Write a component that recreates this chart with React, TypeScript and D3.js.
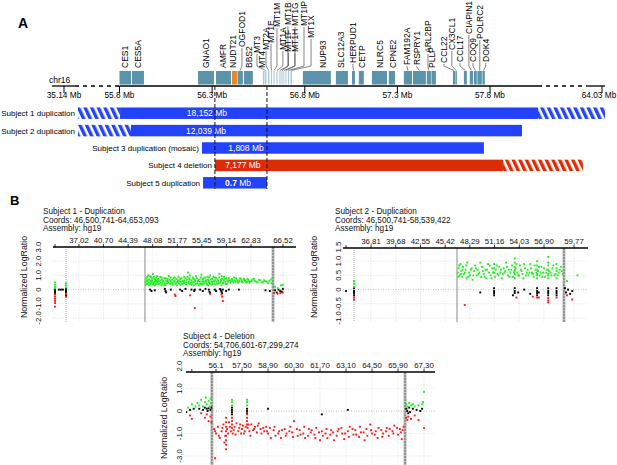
import React from 'react';
import * as d3 from 'd3';

const FONT = "'Liberation Sans', Arial, Helvetica, sans-serif";
const BLUE = '#2342fb';
const RED = '#dc2c05';
const GENE = '#5b93ab';
const ORANGE = '#e2892c';
const MTCOL = '#a9c9dc';

// ---------------- Panel A data ----------------
const chromTicks = [35.14, 55.8, 56.3, 56.8, 57.3, 57.8, 64.03];
const chromTickLabels = ['35.14 Mb', '55.8 Mb', '56.3 Mb', '56.8 Mb', '57.3 Mb', '57.8 Mb', '64.03 Mb'];

const geneNames = ['CES1', 'CES5A', 'GNAO1', 'AMFR', 'NUDT21', 'OGFOD1', 'BBS2', 'MT4', 'MT3', 'MT2A', 'MT1E', 'MT1M', 'MT1A', 'MT1B', 'MT1F', 'MT1G', 'MT1H', 'MT1IP', 'MT1X', 'NUP93', 'SLC12A3', 'HERPUD1', 'CETP', 'NLRC5', 'CPNE2', 'FAM192A', 'RSPRY1', 'ARL2BP', 'PLLP', 'CCL22', 'CX3CL1', 'CCL17', 'CIAPIN1', 'COQ9', 'POLRC2', 'DOK4'];
const geneStart = [55.797, 55.867, 56.224, 56.321, 56.407, 56.437, 56.472, 56.574, 56.585, 56.601, 56.618, 56.631, 56.647, 56.663, 56.674, 56.685, 56.696, 56.709, 56.723, 56.790, 56.968, 57.055, 57.092, 57.163, 57.254, 57.335, 57.384, 57.459, 57.484, 57.600, 57.613, 57.659, 57.691, 57.713, 57.732, 57.759];
const geneEnd = [55.862, 55.932, 56.310, 56.402, 56.434, 56.466, 56.520, 56.582, 56.593, 56.609, 56.623, 56.637, 56.653, 56.669, 56.680, 56.690, 56.701, 56.715, 56.731, 56.941, 57.033, 57.071, 57.119, 57.244, 57.287, 57.379, 57.454, 57.481, 57.508, 57.611, 57.621, 57.675, 57.708, 57.729, 57.756, 57.772];
const geneKind = ['g', 'g', 'g', 'g', 'o', 'g', 'g', 'm', 'm', 'm', 'm', 'm', 'm', 'm', 'm', 'm', 'm', 'm', 'm', 'g', 'g', 'g', 'g', 'g', 'g', 'g', 'g', 'g', 'g', 'g', 'g', 'g', 'g', 'g', 'g', 'g'];
// label anchor (Mb) and label tier bottom (layout)
const geneLabelAt = [55.830, 55.900, 56.267, 56.359, 56.413, 56.461, 56.499, 56.569, 56.542, 56.591, 56.618, 56.650, 56.682, 56.709, 56.712, 56.747, 56.747, 56.796, 56.834, 56.898, 56.995, 57.060, 57.109, 57.206, 57.276, 57.352, 57.405, 57.465, 57.486, 57.551, 57.594, 57.638, 57.686, 57.708, 57.745, 57.777];
const geneLabelBottom = [68, 68, 68, 68, 68, 47, 68, 68, 53, 50, 43, 27, 50, 25, 52, 26, 52, 26, 38, 68, 68, 63, 68, 68, 68, 65, 65, 53, 68, 63, 50, 62, 34, 62, 39, 62];

const subjects = ['Subject 1 duplication', 'Subject 2 duplication', 'Subject 3 duplication (mosaic)', 'Subject 4 deletion', 'Subject 5 duplication'];
const barHatchStart = [40.35, 40.35, null, null, null];
const barSolidStart = [55.803, 55.862, 56.245, 56.315, 56.251];
const barSolidEnd = [60.47, 59.58, 57.767, 58.52, 56.596];
const barHatchEnd = [64.2, null, null, 62.97, null];
const barSize = ['18,152', '12,039', '1,808', '7,177', '0.7'];
const barType = ['dup', 'dup', 'dup', 'del', 'dup'];
const barLabelAt = [56.272, 56.267, 56.483, 56.466, 56.44];
const breakLines = [56.315, 56.596];

// ---------------- Panel B data ----------------
const p1Ticks = [37.02, 40.70, 44.39, 48.08, 51.77, 55.45, 59.14, 62.83, 66.52];
const p1TickLabels = ['37.02', '40.70', '44.39', '48.08', '51.77', '55.45', '59.14', '62.83', '66.52'];
const p1YTicks = [3, 2, 1, 0, -1, -2];
const p1YLabels = ['3.0', '2.0', '1.0', '0', '-1.0', '-2.0'];
const p1Green: [number, number][] = [[33.42, 0.1], [33.42, 0.2], [33.42, 0.35], [33.42, 0.5], [35.07, 0.15], [35.07, 0.3], [35.07, 0.45],
[47.0, 0.55], [47.1, 0.8], [47.2, 0.45], [47.3, 0.62], [47.4, 1.0], [47.5, 0.5], [47.6, 0.7], [47.7, 0.4], [47.8, 0.9], [47.9, 0.55], [48.0, 0.65], [48.1, 1.1], [48.2, 0.45], [48.3, 0.75], [48.4, 0.3], [48.5, 0.6], [48.6, 0.85], [48.7, 0.5], [48.8, 0.7], [48.9, 0.4], [49.0, 0.6], [49.2, 0.9], [49.3, 0.5], [49.4, 0.3], [49.5, 0.7], [49.6, 0.55], [49.8, 0.8], [49.9, 0.45], [50.0, 0.35], [50.1, 0.6], [50.3, 0.75], [50.4, 0.5], [50.5, 0.95], [50.7, 0.4], [50.8, 0.6], [51.0, 0.7], [51.1, 0.45], [51.3, 0.55], [51.4, 0.85], [51.6, 0.5], [51.7, 0.3], [51.9, 0.65], [52.0, 0.45], [52.2, 0.75], [52.3, 0.55], [52.5, 0.4], [52.6, 0.6], [52.8, 0.9], [52.9, 0.5], [53.1, 0.35], [53.2, 0.7], [53.4, 1.2], [53.5, 0.55], [53.6, 0.8], [53.7, 0.4], [53.9, 0.65], [54.0, 0.5], [54.2, 0.75], [54.3, 0.3], [54.5, 0.6], [54.6, 0.95], [54.8, 0.45], [54.9, 0.6], [55.1, 0.7], [55.2, 0.4], [55.4, 1.05], [55.5, 0.55], [55.6, 0.35], [55.7, 0.8], [55.9, 0.5], [56.0, 0.6], [56.2, 0.45], [56.3, 0.9], [56.4, 0.3], [56.5, 0.65], [56.6, 0.5], [56.7, 1.0], [56.9, 0.55], [57.0, 0.75], [57.1, 0.4], [57.3, 0.6], [57.4, 0.85], [57.5, 0.35], [57.7, 0.55], [57.8, 0.7], [58.0, 0.45], [58.1, 1.1], [58.3, 0.6], [58.4, 0.3], [58.5, 0.75], [58.7, 0.5], [58.8, 0.9], [59.0, 0.55], [59.2, 0.4], [59.3, 0.65], [59.5, 0.8], [59.7, 0.5], [59.9, 0.7], [60.1, 0.6], [60.3, 0.85], [60.5, 0.55], [60.7, 0.7], [60.9, 0.5], [61.1, 0.65], [61.3, 0.75], [61.5, 0.55], [61.7, 0.7], [61.9, 0.6], [62.1, 0.5], [62.3, 0.75], [62.5, 0.6], [62.7, 0.55], [63.0, 0.7], [63.3, 0.6], [63.6, 0.5], [63.9, 0.65], [64.2, 0.55], [64.5, 0.6], [64.8, 0.45], [65.1, 0.7], [65.3, 0.8], [65.6, 0.2], [65.9, 0.1], [66.3, 0.3], [66.5, 0.35],
[47.05, 0.35], [47.15, 0.65], [47.25, 0.9], [47.35, 0.4], [47.45, 0.7], [47.55, 0.3], [47.65, 0.95], [47.75, 0.6], [47.85, 0.45], [47.95, 0.8], [48.05, 0.5], [48.15, 0.35], [48.25, 0.9], [48.35, 0.55], [48.45, 0.7], [48.55, 0.4], [48.65, 0.6], [48.75, 0.95], [48.85, 0.55], [48.95, 0.75], [49.1, 0.4], [49.25, 0.65], [49.45, 0.85], [49.55, 0.4], [49.7, 0.6], [49.85, 0.3], [50.05, 0.8], [50.2, 0.45], [50.35, 0.6], [50.6, 0.7], [50.75, 0.85], [50.9, 0.5], [51.05, 0.35], [51.2, 0.8], [51.35, 0.65], [51.5, 0.4], [51.65, 0.75], [51.8, 0.55], [51.95, 0.9], [52.1, 0.6], [52.25, 0.35], [52.4, 0.8], [52.55, 0.6], [52.7, 0.45], [52.85, 0.65], [53.0, 0.8], [53.15, 0.5], [53.3, 0.9], [53.45, 0.45], [53.55, 0.7], [53.65, 1.0], [53.8, 0.5], [53.95, 0.35], [54.1, 0.85], [54.25, 0.55], [54.4, 0.7], [54.55, 0.4], [54.7, 0.8], [54.85, 0.65], [55.0, 0.3], [55.15, 0.55], [55.3, 0.85], [55.45, 0.4], [55.55, 0.75], [55.65, 0.6], [55.8, 0.45], [55.95, 0.85], [56.1, 0.65], [56.25, 0.35], [56.35, 0.7], [56.45, 0.55], [56.55, 0.85], [56.65, 0.4], [56.8, 0.7], [56.95, 0.35], [57.05, 0.55], [57.2, 0.9], [57.35, 0.45], [57.45, 0.65], [57.6, 0.8], [57.75, 0.4], [57.9, 0.6], [58.05, 0.85], [58.2, 0.5], [58.35, 0.7], [58.45, 0.95], [58.6, 0.45], [58.75, 0.65], [58.9, 0.75], [59.05, 0.4], [59.15, 0.8], [59.4, 0.55], [59.6, 0.65], [59.8, 0.6], [60.0, 0.75], [60.2, 0.5], [60.4, 0.65], [60.6, 0.8], [60.8, 0.6], [61.0, 0.55], [61.2, 0.8], [61.4, 0.6], [61.6, 0.5], [61.8, 0.75], [62.0, 0.65], [62.2, 0.55], [62.4, 0.7], [62.6, 0.5], [62.9, 0.6], [63.15, 0.75], [63.45, 0.55], [63.75, 0.7], [64.05, 0.5], [64.35, 0.65], [64.65, 0.55], [64.95, 0.6], [65.2, 0.45]];
const p1Black: [number, number][] = [[33.42, 0.05], [33.42, -0.05], [33.42, -0.15], [33.42, -0.25], [34.0, 0], [34.3, 0], [34.6, 0], [35.07, 0.05], [35.07, -0.05], [35.07, -0.15], [35.07, -0.25], [35.07, -0.35], [35.07, -0.45],
[47.7, 0], [47.9, -0.1], [48.4, -0.05], [49.9, 0.05], [50.0, -0.1], [50.1, -0.2], [50.8, 0], [52.2, 0], [52.5, -0.1], [53.0, 0.05], [53.9, 0], [54.3, -0.1], [54.4, 0], [55.2, 0], [55.6, -0.1], [56.0, 0.05], [56.5, 0], [56.6, -0.15], [56.7, -0.25], [57.4, 0], [57.6, -0.1], [58.2, 0.05], [58.3, -0.05], [58.4, -0.15], [58.5, -0.25], [58.6, 0], [59.1, -0.1], [59.5, 0], [61.0, 0], [64.5, -0.05], [65.0, -0.1], [65.6, -0.05], [65.8, -0.2], [66.0, 0], [66.2, -0.1], [66.4, -0.15], [66.5, 0.05]];
const p1Red: [number, number][] = [[33.42, -0.35], [33.42, -0.5], [33.42, -0.65], [33.42, -0.8], [33.42, -0.95], [33.42, -1.2], [35.07, -0.3], [35.07, -0.5], [51.4, -0.35], [51.5, -0.45], [53.7, -0.4], [54.4, -1.3], [56.7, -0.3], [58.5, -0.5], [58.6, -0.8], [58.4, -0.35], [65.5, -0.25], [65.9, -0.3], [66.2, -0.25], [66.5, -0.2]];

const p2Ticks = [36.81, 39.68, 42.55, 45.42, 48.29, 51.16, 54.03, 56.90, 59.77];
const p2TickLabels = ['36,81', '39,68', '42,55', '45,42', '48,29', '51,16', '54,03', '56,90', '59,77'];
const p2YTicks = [1.5, 1.0, 0.5, 0, -0.5, -1.0];
const p2YLabels = ['1.5', '1.0', '0.5', '0', '-0.5', '-1.0'];
const p2Green: [number, number][] = [[34.84, 0.1], [34.84, 0.2], [34.84, 0.3],
[46.9, 0.6], [47.0, 0.75], [47.1, 0.5], [47.2, 0.9], [47.3, 0.65], [47.4, 0.45], [47.5, 0.8], [47.6, 0.55], [47.8, 0.7], [47.9, 0.4], [48.0, 0.95], [48.2, 0.6], [48.3, 0.5], [48.5, 0.75], [48.6, 0.35], [48.8, 0.65], [48.9, 0.85], [49.1, 0.5], [49.2, 0.7], [49.4, 0.6], [49.6, 0.45], [49.7, 0.8], [49.9, 0.55], [50.1, 0.7], [50.2, 0.4], [50.4, 0.9], [50.5, 0.6], [50.7, 0.5], [50.9, 0.75], [51.0, 0.6], [51.1, 0.9], [51.2, 0.45], [51.3, 0.7], [51.5, 0.55], [51.7, 0.8], [51.8, 0.6], [52.0, 0.4], [52.2, 0.75], [52.3, 0.6], [52.5, 0.95], [52.7, 0.5], [52.8, 0.7], [53.0, 0.6], [53.2, 0.85], [53.3, 0.45], [53.5, 0.7], [53.5, 0.55], [53.5, 0.95], [53.5, 1.1], [53.5, 0.4], [53.6, 0.75], [53.8, 0.6], [54.0, 0.5], [54.1, 0.85], [54.3, 0.65], [54.5, 0.4], [54.7, 0.75], [54.9, 0.6], [55.1, 0.5], [55.3, 0.9], [55.5, 0.6], [55.7, 0.45], [55.9, 0.7], [56.1, 0.55], [56.1, 0.85], [56.1, 1.0], [56.1, 0.4], [56.2, 0.65], [56.4, 0.5], [56.6, 0.8], [56.8, 0.6], [57.0, 0.45], [57.2, 0.7], [57.3, 0.55], [57.3, 0.85], [57.3, 1.15], [57.3, 0.4], [57.5, 0.6], [57.7, 0.75], [57.9, 0.5], [58.1, 0.65], [58.1, 0.9], [58.1, 0.4], [58.3, 0.6], [58.5, 0.8], [58.7, 0.55], [59.1, 0.3], [60.1, 0.5],
[46.95, 0.45], [47.05, 0.85], [47.25, 0.55], [47.45, 0.7], [47.7, 0.6], [47.85, 0.85], [48.1, 0.45], [48.4, 0.7], [48.7, 0.5], [49.0, 0.75], [49.3, 0.55], [49.5, 0.95], [49.8, 0.65], [50.0, 0.45], [50.3, 0.7], [50.6, 0.85], [50.8, 0.4], [51.1, 0.6], [51.1, 0.75], [51.4, 0.85], [51.6, 0.5], [51.9, 0.7], [52.1, 0.55], [52.4, 0.65], [52.6, 0.8], [52.9, 0.45], [53.1, 0.7], [53.4, 0.6], [53.5, 0.8], [53.5, 0.65], [53.7, 0.9], [53.9, 0.5], [54.2, 0.7], [54.4, 0.55], [54.6, 0.9], [54.8, 0.5], [55.0, 0.7], [55.2, 0.6], [55.4, 0.75], [55.6, 0.55], [55.8, 0.85], [56.0, 0.6], [56.1, 0.7], [56.1, 0.5], [56.3, 0.8], [56.5, 0.6], [56.7, 0.45], [56.9, 0.75], [57.1, 0.6], [57.3, 0.7], [57.3, 0.95], [57.3, 0.5], [57.4, 0.65], [57.6, 0.5], [57.8, 0.85], [58.0, 0.55], [58.1, 0.75], [58.2, 0.5], [58.4, 0.7], [58.6, 0.65]];
const p2Black: [number, number][] = [[33.91, -0.05], [34.84, 0.05], [34.84, -0.05], [34.84, -0.12], [34.84, -0.2], [49.5, -0.1], [51.1, 0.05], [51.1, -0.05], [51.1, -0.12], [51.1, -0.2], [53.5, 0.05], [53.5, -0.05], [53.5, -0.12], [53.3, -0.2], [53.9, -0.1], [54.6, 0], [55.3, -0.15], [56.1, 0.05], [56.1, -0.05], [56.1, -0.12], [56.1, -0.2], [56.3, -0.1], [57.3, 0.05], [57.3, -0.05], [57.3, -0.12], [57.3, -0.2], [58.1, 0.05], [58.1, -0.05], [58.1, -0.12], [58.1, -0.2], [58.9, 0.05], [59.0, -0.1], [59.2, 0], [59.4, -0.15], [59.6, -0.05]];
const p2Red: [number, number][] = [[34.84, -0.28], [34.84, -0.36], [47.7, -0.54], [53.7, -0.28], [55.6, -0.25], [56.1, -0.28], [56.3, -0.28], [57.3, -0.3], [57.3, -0.38], [57.3, -0.45], [58.1, -0.28], [59.1, -0.2], [59.6, -0.35]];

const p4Ticks = [56.1, 57.5, 58.9, 60.3, 61.7, 63.1, 64.5, 65.9, 67.3];
const p4TickLabels = ['56.1', '57,50', '58,90', '60,30', '61,70', '63,10', '64,50', '65,90', '67,30'];
const p4YTicks = [2, 1, 0, -1, -2];
const p4YLabels = ['2.0', '1.0', '0', '-1.0', '-3.0'];
const p4Green: [number, number][] = [[54.6, 0.15], [54.8, 0.3], [55.0, 0.2], [55.1, 0.35], [55.2, 0.25], [55.3, 0.5], [55.4, 0.2], [55.5, 0.4], [55.55, 0.6], [55.6, 0.3], [55.7, 0.45], [55.75, 0.2], [55.8, 0.55], [55.85, 0.35], [56.96, 0.25], [56.96, 0.4], [56.96, 0.5], [57.77, 0.25], [57.77, 0.4], [57.77, 0.5], [66.3, 0.5], [66.35, 0.3], [66.4, 0.2], [66.5, 0.35], [66.6, 0.25], [66.7, 0.3], [66.8, 0.2], [67.0, 0.25], [67.2, 0.3], [67.25, 0.4], [67.3, 0.85]];
const p4Black: [number, number][] = [[54.5, -0.05], [54.7, 0.05], [54.9, 0.1], [55.2, 0.1], [55.4, 0.05], [55.5, 0.15], [55.6, 0.1], [55.65, 0.0], [55.7, 0.12], [55.8, 0.05], [55.85, 0.15], [56.96, 0.15], [56.96, 0.05], [56.96, -0.05], [56.96, -0.15], [57.77, 0.1], [57.77, 0], [57.77, -0.1], [58.9, 0.1], [63.2, 0.05], [61.8, -0.15], [66.35, 0.1], [66.4, 0], [66.45, -0.1], [66.5, 0.15], [66.55, -0.05], [66.7, 0.1], [66.9, 0.05], [67.1, 0], [67.2, 0.1]];
const p4Red: [number, number][] = [[54.7, -0.2], [54.8, -0.35], [55.3, -0.1], [55.5, -0.3], [55.6, -0.15], [55.7, -0.45], [55.8, -0.25], [55.85, -0.5], [56.05, -2.1],
[56.0, -0.8], [56.1, -1.0], [56.2, -0.7], [56.3, -1.2], [56.4, -0.9], [56.5, -0.6], [56.6, -1.1], [56.64, -0.3], [56.64, -0.5], [56.64, -0.7], [56.64, -0.9], [56.64, -1.1], [56.64, -1.3], [56.64, -1.5], [56.64, -1.7], [56.7, -0.8], [56.8, -0.5], [56.9, -0.9], [56.96, -0.3], [56.96, -0.45], [56.96, -0.6], [56.96, -0.75], [57.0, -1.0], [57.1, -0.7], [57.2, -0.55], [57.3, -0.9], [57.4, -0.6], [57.5, -0.8], [57.6, -1.0], [57.7, -0.7], [57.77, -0.15], [57.77, -0.3], [57.77, -0.45], [57.77, -0.6], [57.8, -0.75], [57.9, -0.9], [58.0, -0.6], [58.1, -0.85], [58.2, -0.7], [58.3, -0.95], [58.4, -0.55], [58.5, -0.8], [58.7, -0.9], [58.8, -0.7], [58.9, -1.0], [59.0, -0.75], [59.2, -0.85], [59.3, -1.1], [59.5, -0.9], [59.6, -1.2], [59.8, -0.8], [59.9, -1.0], [60.1, -0.7], [60.2, -0.95], [60.3, -0.45], [60.5, -1.1], [60.6, -0.85], [60.8, -1.0], [60.9, -1.2], [61.1, -0.8], [61.2, -0.95], [61.4, -1.05], [61.5, -0.75], [61.7, -1.3], [61.8, -0.9], [62.0, -1.0], [62.1, -1.2], [62.3, -0.85], [62.4, -0.95], [62.6, -1.1], [62.7, -0.8], [62.9, -1.0], [63.0, -1.25], [63.2, -0.9], [63.3, -0.7], [63.5, -1.05], [63.6, -0.85], [63.8, -1.15], [63.9, -0.95], [64.1, -1.3], [64.2, -0.8], [64.4, -0.6], [64.5, -1.0], [64.7, -0.9], [64.8, -1.2], [65.0, -0.85], [65.1, -1.0], [65.3, -0.75], [65.4, -1.1], [65.6, -0.9], [65.7, -0.65], [65.9, -1.05], [66.0, -0.8], [66.1, -1.25], [66.2, -0.7],
[66.35, -0.3], [66.4, -0.4], [66.45, -0.25], [66.6, -0.35], [66.8, -0.2], [67.0, -0.4], [67.3, -0.75],
[56.05, -0.9], [56.25, -1.1], [56.45, -0.75], [56.55, -1.4], [56.75, -1.0], [56.85, -0.7], [57.05, -0.85], [57.15, -1.05], [57.35, -0.75], [57.45, -1.0], [57.55, -0.65], [57.65, -0.9], [57.85, -0.6], [57.95, -1.1], [58.15, -0.8], [58.35, -0.65], [58.55, -1.0], [58.65, -0.75], [58.85, -0.9], [59.05, -1.2], [59.25, -0.7], [59.45, -1.0], [59.65, -0.85], [59.85, -1.1], [60.05, -0.9], [60.25, -1.15], [60.45, -0.8], [60.65, -1.05], [60.85, -0.7], [61.05, -1.1], [61.25, -0.85], [61.45, -1.2], [61.65, -0.95], [61.85, -1.1], [62.05, -0.8], [62.25, -1.05], [62.45, -1.3], [62.65, -0.9], [62.85, -0.75], [63.05, -1.0], [63.25, -1.15], [63.45, -0.8], [63.65, -1.05], [63.85, -0.7], [64.05, -0.95], [64.25, -1.1], [64.45, -0.85], [64.65, -1.05], [64.85, -0.75], [65.05, -1.15], [65.25, -0.9], [65.45, -0.8], [65.65, -1.0], [65.85, -0.75], [66.05, -0.95], [66.15, -0.85]];

type Pt = [number, number];

function Scatter(p: any) {
  const x = d3.scaleLinear().domain(p.xDomain).range(p.xRange);
  const y = d3.scaleLinear().domain(p.yDomain).range(p.yRange);
  const clipId = p.id + '-clip';
  const s = 1.9;
  const pt = (d: Pt, c: string, i: number) => (
    <rect key={c + i} x={x(d[0]) - s / 2} y={y(d[1]) - s / 2} width={s} height={s} fill={c} />
  );
  return (
    <g fontFamily={FONT}>
      {p.title.map((t: string, i: number) => (
        <text key={i} x={p.titleX} y={p.titleY + i * 8.5} fontSize={8.2} fill="#111">{t}</text>
      ))}
      <defs>
        <clipPath id={clipId}>
          <rect x={p.left} y={p.top} width={p.right - p.left} height={p.bottom - p.top} />
        </clipPath>
      </defs>
      <g clipPath={`url(#${clipId})`}>
        {p.xTicks.map((t: number, i: number) => (
          <line key={'gx' + i} x1={x(t)} x2={x(t)} y1={p.top} y2={p.bottom} stroke="#d4d4d4" strokeWidth={0.6} strokeDasharray="1,1.5" />
        ))}
        {p.yTicks.map((t: number, i: number) => (
          <line key={'gy' + i} x1={p.left} x2={p.right} y1={y(t)} y2={y(t)} stroke={t === 0 ? '#999' : '#d4d4d4'} strokeWidth={0.6} strokeDasharray="1,1.5" />
        ))}
        {p.dotted.map((t: number, i: number) => (
          <line key={'dt' + i} x1={x(t)} x2={x(t)} y1={p.top} y2={p.bottom} stroke="#888" strokeWidth={0.7} strokeDasharray="1,1" />
        ))}
        {p.solid.map((t: number, i: number) => (
          <line key={'sl' + i} x1={x(t)} x2={x(t)} y1={p.top} y2={p.bottom} stroke="#8a8a8a" strokeWidth={1} />
        ))}
        {p.double.map((t: number, i: number) => (
          <g key={'db' + i}>
            <line x1={x(t)} x2={x(t)} y1={p.top} y2={p.bottom} stroke="#bcbcbc" strokeWidth={3} />
            <line x1={x(t)} x2={x(t)} y1={p.top} y2={p.bottom} stroke="#555" strokeWidth={0.8} strokeDasharray="2,1" />
          </g>
        ))}
        {p.black.map((d: Pt, i: number) => pt(d, '#000', i))}
        {p.red.map((d: Pt, i: number) => pt(d, '#ff1a1a', i))}
        {p.green.map((d: Pt, i: number) => pt(d, '#22ee22', i))}
      </g>
      <line x1={p.left} x2={p.right} y1={p.top} y2={p.top} stroke="#000" strokeWidth={1.4} />
      {[p.firstTick, ...p.xTicks].map((t: number, i: number) => (
        <line key={'tk' + i} x1={x(t)} x2={x(t)} y1={p.top} y2={p.top - 3} stroke="#000" strokeWidth={0.8} />
      ))}
      {p.xTicks.map((t: number, i: number) => (
        <text key={'tl' + i} x={x(t)} y={p.top - 4} fontSize={7.8} textAnchor="middle" fill="#111">{p.xTickLabels[i]}</text>
      ))}
      {p.yTicks.map((t: number, i: number) => (
        <text key={'yl' + i} transform={`translate(${p.yTickX},${y(t)}) rotate(-90)`} fontSize={7.8} textAnchor="middle" fill="#111">{p.yTickLabels[i]}</text>
      ))}
      <text transform={`translate(${p.yLabelX},${p.yLabelY}) rotate(-90)`} fontSize={8.8} textAnchor="middle" fill="#111">Normalized LogRatio</text>
    </g>
  );
}

export default function App() {
  const gx = d3.scaleLinear().domain([35.14, 55.8, 57.8, 64.03]).range([64, 119.5, 490, 602]);
  const axisY = 86;
  const rows = d3.scaleBand().domain(subjects).range([104.5, 191.5]).paddingInner(0.34).paddingOuter(0.17);
  const bw = rows.bandwidth();

  return (
    <svg width={617} height={465} style={{ position: 'absolute', left: 0, top: 0, background: '#fff' }} fontFamily={FONT}>
      <defs>
        <pattern id="hatchBlue" patternUnits="userSpaceOnUse" width={6} height={6} patternTransform="rotate(-25)">
          <rect width={6} height={6} fill="#fff" />
          <rect width={3.4} height={6} fill={BLUE} />
        </pattern>
        <pattern id="hatchRed" patternUnits="userSpaceOnUse" width={6} height={6} patternTransform="rotate(-25)">
          <rect width={6} height={6} fill="#fff" />
          <rect width={3.4} height={6} fill={RED} />
        </pattern>
      </defs>

      {/* Panel A */}
      <text x={18} y={28} fontSize={14} fontWeight="bold">A</text>
      <text x={49} y={83} fontSize={8.5}>chr16</text>

      {/* chromosome axis */}
      <line x1={gx(30.67)} x2={gx(39.24)} y1={axisY} y2={axisY} stroke="#000" strokeWidth={1.3} />
      <line x1={gx(39.24)} x2={gx(55.8)} y1={axisY} y2={axisY} stroke="#000" strokeWidth={1.3} strokeDasharray="4,4" />
      <line x1={gx(55.8)} x2={gx(60.47)} y1={axisY} y2={axisY} stroke="#000" strokeWidth={1.3} />
      <line x1={gx(60.47)} x2={gx(63.2)} y1={axisY} y2={axisY} stroke="#000" strokeWidth={1.3} strokeDasharray="4,4" />
      <line x1={gx(63.2)} x2={gx(64.2)} y1={axisY} y2={axisY} stroke="#000" strokeWidth={1.3} />
      {chromTicks.map((t, i) => (
        <g key={'ct' + i}>
          <line x1={gx(t)} x2={gx(t)} y1={axisY} y2={axisY + 7} stroke="#000" strokeWidth={1} />
          <text x={Math.min(gx(t), 599)} y={axisY + 12} fontSize={8.3} textAnchor="middle">{chromTickLabels[i]}</text>
        </g>
      ))}

      {/* genes */}
      {geneNames.map((g, i) => (
        <rect key={'gb' + i} x={gx(geneStart[i])} y={71} width={Math.max(0.8, gx(geneEnd[i]) - gx(geneStart[i]))} height={13.5}
          fill={geneKind[i] === 'o' ? ORANGE : geneKind[i] === 'm' ? MTCOL : GENE} />
      ))}
      {geneNames.map((g, i) => {
        const lx = gx(geneLabelAt[i]);
        const bx = (gx(geneStart[i]) + gx(geneEnd[i])) / 2;
        const lb = geneLabelBottom[i];
        const needLeader = lb < 66 || Math.abs(lx - bx) > 4 && geneKind[i] === 'm';
        return (
          <g key={'gl' + i}>
            <text transform={`translate(${lx + 3},${lb}) rotate(-90)`} fontSize={8.5} textAnchor="start">{g}</text>
            {needLeader && (
              <path d={`M${lx},${lb + 1} V${Math.max(lb + 2, 66)} L${bx},${70.5}`} fill="none" stroke="#333" strokeWidth={0.6} />
            )}
          </g>
        );
      })}

      {/* bars */}
      {subjects.map((s, i) => {
        const y0 = rows(s) as number;
        const hs = barHatchStart[i];
        const he = barHatchEnd[i];
        const solid = barType[i] === 'del' ? RED : BLUE;
        const hatch = barType[i] === 'del' ? 'url(#hatchRed)' : 'url(#hatchBlue)';
        const leftEdge = hs != null ? gx(hs) : gx(barSolidStart[i]);
        return (
          <g key={'bar' + i}>
            {hs != null && <rect x={gx(hs)} y={y0} width={gx(barSolidStart[i]) - gx(hs)} height={bw} fill={hatch} />}
            <rect x={gx(barSolidStart[i])} y={y0} width={gx(barSolidEnd[i]) - gx(barSolidStart[i])} height={bw} fill={solid} />
            {he != null && <rect x={gx(barSolidEnd[i])} y={y0} width={gx(he) - gx(barSolidEnd[i])} height={bw} fill={hatch} />}
            <text x={leftEdge - 3} y={y0 + bw / 2 + 3} fontSize={8} textAnchor="end">{s}</text>
            <text x={gx(barLabelAt[i])} y={y0 + bw / 2 + 3} fontSize={8.5} textAnchor="middle" fill="#fff">
              <tspan fontWeight={i === 4 ? 'bold' : 'normal'}>{barSize[i]}</tspan> Mb
            </text>
          </g>
        );
      })}
      {breakLines.map((b, i) => (
        <line key={'bl' + i} x1={gx(b)} x2={gx(b)} y1={axisY} y2={189} stroke="#111" strokeWidth={1} strokeDasharray="4,2" />
      ))}

      {/* Panel B */}
      <text x={10} y={205} fontSize={13} fontWeight="bold">B</text>

      <Scatter id="p1" title={['Subject 1 - Duplication', 'Coords: 46,500,741-64,653,093', 'Assembly: hg19']}
        titleX={43} titleY={214} left={53} right={296} top={247} bottom={322}
        xDomain={[37.02, 62.83, 66.52]} xRange={[79, 251, 283]} yDomain={[-2, 3]} yRange={[318, 247]}
        xTicks={p1Ticks} xTickLabels={p1TickLabels} firstTick={33.42} yTicks={p1YTicks} yTickLabels={p1YLabels}
        yTickX={41} yLabelX={27} yLabelY={277}
        dotted={[35.07]} solid={[46.92]} double={[65.37]}
        green={p1Green} black={p1Black} red={p1Red} />

      <Scatter id="p2" title={['Subject 2 - Duplication', 'Coords: 46,500,741-58,539,422', 'Assembly: hg19']}
        titleX={335} titleY={214} left={343} right={588} top={248} bottom={322}
        xDomain={[36.81, 56.90, 59.77]} xRange={[371, 544, 574]} yDomain={[-1, 1.5]} yRange={[318, 247]}
        xTicks={p2Ticks} xTickLabels={p2TickLabels} firstTick={33.91} yTicks={p2YTicks} yTickLabels={p2YLabels}
        yTickX={341} yLabelX={317} yLabelY={277}
        dotted={[34.84]} solid={[46.80]} double={[58.81]}
        green={p2Green} black={p2Black} red={p2Red} />

      <Scatter id="p4" title={['Subject 4 - Deletion', 'Coords:  54,706,601-67,299,274', 'Assembly: hg19']}
        titleX={183} titleY={339} left={186} right={435} top={372} bottom={465}
        xDomain={[57.5, 67.3]} xRange={[242, 424]} yDomain={[-2, 2]} yRange={[456, 366]}
        xTicks={p4Ticks} xTickLabels={p4TickLabels} firstTick={54.8} yTicks={p4YTicks} yTickLabels={p4YLabels}
        yTickX={182} yLabelX={167} yLabelY={418}
        dotted={[]} solid={[]} double={[55.88, 66.28]}
        green={p4Green} black={p4Black} red={p4Red} />
    </svg>
  );
}
